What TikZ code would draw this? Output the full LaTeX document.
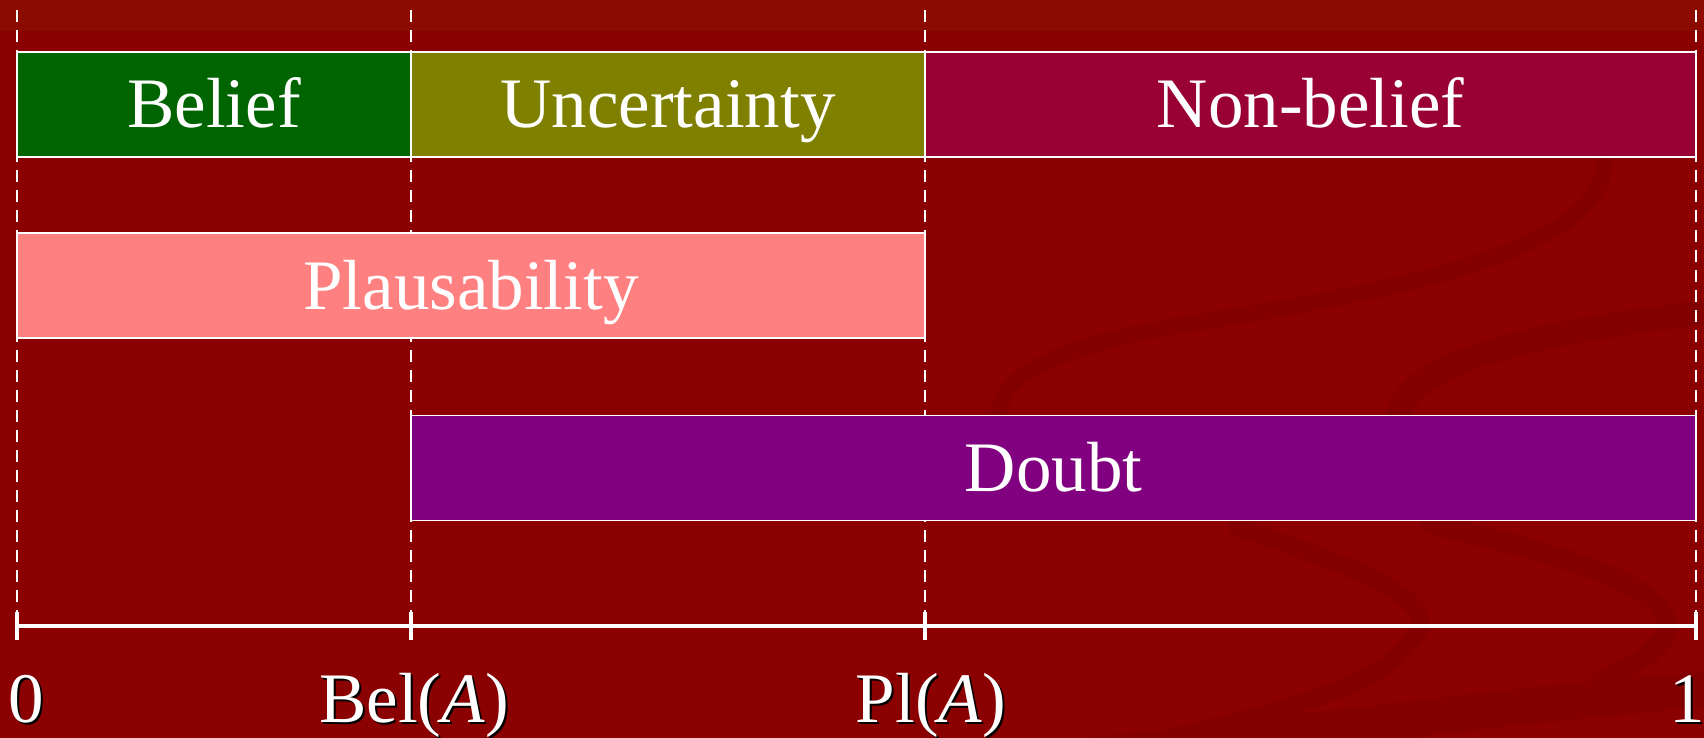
\documentclass[tikz,border=0pt]{standalone}
\usepackage{fontspec}
\setmainfont{Liberation Serif}
\definecolor{bgred}{HTML}{8B0000}
\definecolor{topred}{HTML}{8C0B00}
\definecolor{swooshred}{HTML}{820000}
\definecolor{beliefgreen}{HTML}{006400}
\definecolor{uncolive}{HTML}{808000}
\definecolor{nonbelief}{HTML}{990033}
\definecolor{plauspink}{HTML}{FF8080}
\definecolor{doubtpurple}{HTML}{800080}
\tikzset{
  swoosh/.style={draw=swooshred, line cap=round},
  box/.style={draw=white, line width=0.75pt, inner sep=0pt, text=white,
    font=\fontsize{35.5}{40}\selectfont, text height=23.5pt, text depth=0pt,
    minimum height=52.5pt, align=center},
  guide/.style={draw=white, line width=1.3pt, dash pattern=on 6pt off 4pt},
  axisline/.style={draw=white, line width=1.8pt},
  tickmark/.style={draw=white, line width=2pt},
  lbl/.style={text=white, inner sep=0pt, anchor=base, font=\fontsize{35.5}{40}\selectfont},
  lblshadow/.style={text=black, inner sep=0pt, anchor=base, font=\fontsize{35.5}{40}\selectfont}
}
\begin{document}
\begin{tikzpicture}[x=0.5pt,y=-0.5pt]
\fill[bgred] (0,0) rectangle (1704,738);
\fill[topred] (0,0) rectangle (1704,31);
\useasboundingbox (0,0) rectangle (1704,738);
% background swooshes
\draw[swoosh, line width=8pt] (1604,165) .. controls (1600,250) and (1400,290) .. (1200,322) .. controls (1050,345) and (990,380) .. (1000,425);
\draw[swoosh, line width=12pt] (1710,312) .. controls (1550,330) and (1400,360) .. (1398,420);
\draw[swoosh, line width=9pt] (1238,528) .. controls (1350,565) and (1450,600) .. (1412,640) .. controls (1380,690) and (1250,720) .. (1140,745);
\draw[swoosh, line width=10pt] (1431,525) .. controls (1600,560) and (1690,600) .. (1662,640) .. controls (1645,660) and (1625,670) .. (1600,682);
\draw[swoosh, line width=18pt] (1000,765) .. controls (1300,735) and (1500,705) .. (1720,688);
% guide coordinates
\coordinate (g0t) at (17,10);   \coordinate (g0b) at (17,612);
\coordinate (g1t) at (411,10);  \coordinate (g1b) at (411,612);
\coordinate (g2t) at (925,10);  \coordinate (g2b) at (925,612);
\coordinate (g3t) at (1696,10); \coordinate (g3b) at (1696,612);
\coordinate (k0) at (17,640); \coordinate (k1) at (411,640);
\coordinate (k2) at (925,640); \coordinate (k3) at (1696,640);
\coordinate (a0) at (17,626); \coordinate (a3) at (1696,626);
\draw[guide] (g0t) -- (g0b);
\draw[guide] (g1t) -- (g1b);
\draw[guide] (g2t) -- (g2b);
\draw[guide] (g3t) -- (g3b);
% boxes
\node[box, fill=beliefgreen, minimum width=197pt] (belief) at (214,104.5) {Belief};
\node[box, fill=uncolive, minimum width=257pt] (uncert) at (668,104.5) {Uncertainty};
\node[box, fill=nonbelief, minimum width=385.5pt] (nonbel) at (1310.5,104.5) {Non-belief};
\node[box, fill=plauspink, minimum width=454pt] (plaus) at (471,285.5) {Plausability};
\node[box, fill=doubtpurple, minimum width=642.5pt] (doubt) at (1053.5,468) {Doubt};
% axis
\draw[axisline] (a0) -- (a3);
\draw[tickmark] (g0b) -- (k0);
\draw[tickmark] (g1b) -- (k1);
\draw[tickmark] (g2b) -- (k2);
\draw[tickmark] (g3b) -- (k3);
% labels with shadows
\node[lblshadow] (s0) at (28.5,724) {0};
\node[lbl] (l0) at (26.5,722) {0};
\node[lblshadow] (s1) at (416,724) {Bel(\textit{A})};
\node[lbl] (l1) at (414,722) {Bel(\textit{A})};
\node[lblshadow] (s2) at (933,724) {Pl(\textit{A})};
\node[lbl] (l2) at (931,722) {Pl(\textit{A})};
\node[lblshadow] (s3) at (1689.5,724) {1};
\node[lbl] (l3) at (1687.5,722) {1};
\end{tikzpicture}
\end{document}
